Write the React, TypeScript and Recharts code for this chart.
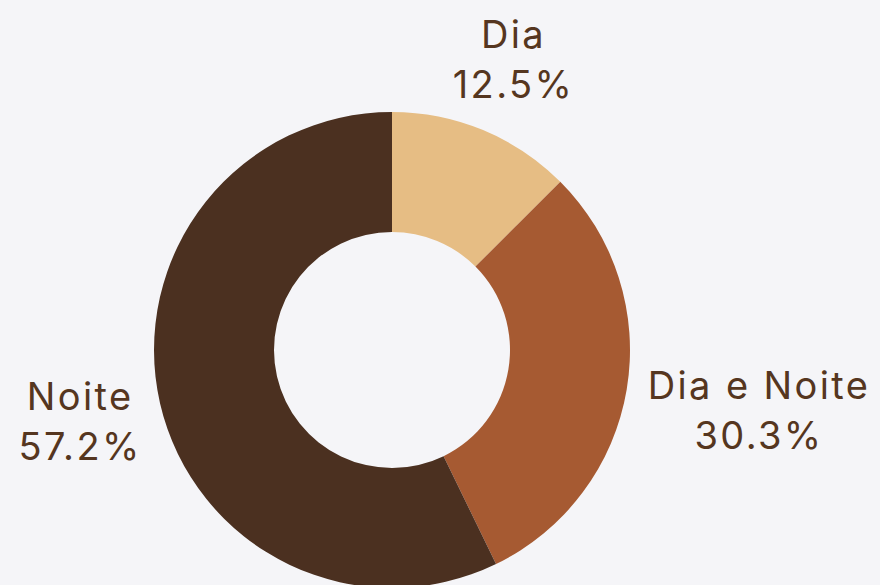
import React from "react";
import { PieChart, Pie, Cell } from "recharts";

const categories = ["Dia", "Dia e Noite", "Noite"];
const shares = [12.5, 30.3, 57.2];
const colors = ["#e6bd84", "#a65a32", "#4b3020"];

const data = categories.map((name, i) => ({ name, value: shares[i] }));

const FONT_FAMILY = "Inter, 'Noto Sans', sans-serif";
const FONT_SIZE = 38;
const LETTER_SPACING = 2.4;
const TEXT_COLOR = "#553620";

let ctx: CanvasRenderingContext2D | null = null;
function measure(text: string): number {
  if (!ctx) {
    const c = document.createElement("canvas");
    ctx = c.getContext("2d");
  }
  const extra = text.length * LETTER_SPACING;
  if (!ctx) return text.length * FONT_SIZE * 0.55 + extra;
  ctx.font = `${FONT_SIZE}px ${FONT_FAMILY}`;
  return ctx.measureText(text).width + extra;
}

const RAD = Math.PI / 180;

const renderLabel = (props: any) => {
  const { cx, cy, midAngle, outerRadius, name, value } = props;
  const line2 = `${Number(value).toFixed(1)}%`;
  const w = Math.max(measure(name), measure(line2));
  const h = 104;
  const c = Math.cos(-midAngle * RAD);
  const s = Math.sin(-midAngle * RAD);
  const t = Math.min(
    Math.abs(c) > 1e-6 ? w / 2 / Math.abs(c) : Infinity,
    Math.abs(s) > 1e-6 ? h / 2 / Math.abs(s) : Infinity
  );
  const d = outerRadius + 20 + t;
  const x = cx + d * c + LETTER_SPACING / 2;
  const y = cy + d * s;
  return (
    <text
      x={x}
      y={y}
      textAnchor="middle"
      fill={TEXT_COLOR}
      fontFamily={FONT_FAMILY}
      fontSize={FONT_SIZE}
      letterSpacing={LETTER_SPACING}
    >
      <tspan x={x} y={y - 12}>{name}</tspan>
      <tspan x={x} y={y + 38}>{line2}</tspan>
    </text>
  );
};

export default function App() {
  return (
    <div style={{ width: 880, height: 585, background: "#f5f5f8", overflow: "hidden" }}>
      <style>{`body{margin:0;background:#f5f5f8;}`}</style>
      <PieChart width={880} height={585} margin={{ top: 0, right: 0, bottom: 0, left: 0 }}>
        <Pie
          data={data}
          dataKey="value"
          nameKey="name"
          cx={392}
          cy={350}
          innerRadius={118}
          outerRadius={238}
          startAngle={90}
          endAngle={-270}
          stroke="none"
          label={renderLabel}
          labelLine={false}
          isAnimationActive={false}
        >
          {data.map((d, i) => (
            <Cell key={d.name} fill={colors[i]} />
          ))}
        </Pie>
      </PieChart>
    </div>
  );
}
